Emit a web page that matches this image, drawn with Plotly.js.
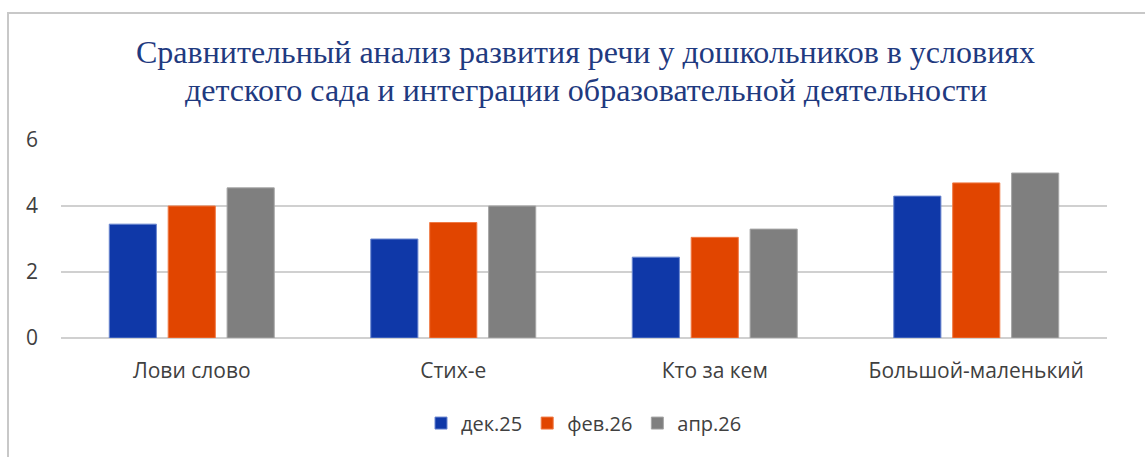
<!DOCTYPE html>
<html>
<head>
<meta charset="utf-8">
<script src="https://cdn.plot.ly/plotly-3.0.1.min.js"></script>
<style>
  html, body { margin: 0; padding: 0; background: #ffffff; overflow: hidden; }
  #chart { width: 1145px; height: 457px; position: absolute; left: 0; top: 0; }
  #frame { position: absolute; left: 7px; top: 12px; width: 1200px; height: 500px;
           border-left: 2px solid #c8c8c8; border-top: 2px solid #c8c8c8; pointer-events: none; }
</style>
</head>
<body>
<div id="chart"></div>
<div id="frame"></div>
<script>
const categories = ["Лови слово", "Стих-е", "Кто за кем", "Большой-маленький"];
const seriesNames = ["дек.25", "фев.26", "апр.26"];
const dec25 = [3.45, 3.0, 2.45, 4.3];
const feb26 = [4.0, 3.5, 3.05, 4.7];
const apr26 = [4.55, 4.0, 3.3, 5.0];
const yTicks = [0, 2, 4, 6];
const titleLine1 = "Сравнительный анализ развития речи у дошкольников в условиях";
const titleLine2 = "детского сада и интеграции образовательной деятельности";

const colors = ["#0f38a8", "#e14500", "#7f7f7f"];
const edge = ["#6a86cf", "#f07a45", "#a6a6a6"];
const values = [dec25, feb26, apr26];

const traces = values.map((v, i) => ({
  type: "bar",
  name: seriesNames[i],
  x: categories,
  y: v,
  marker: { color: colors[i], line: { color: edge[i], width: 1 } },
  hoverinfo: "x+y+name"
}));

const plotTop = 139.5, plotBottom = 338.5, H = 457;
const pyToPaper = (py) => (plotBottom - py) / (plotBottom - plotTop);
const titleFont = { family: "Liberation Serif, Times New Roman, serif", size: 32, color: "#1f3a80" };

const layout = {
  width: 1145,
  height: H,
  paper_bgcolor: "#ffffff",
  plot_bgcolor: "#ffffff",
  margin: { l: 61, r: 38, t: plotTop, b: H - plotBottom },
  barmode: "group",
  bargap: 0.324,
  bargroupgap: 0.2,
  title: {
    text: titleLine1,
    font: titleFont,
    x: 585.5 / 1145, xanchor: "center",
    y: 1 - 52 / H, yanchor: "middle", yref: "container"
  },
  annotations: [{
    text: titleLine2,
    font: titleFont,
    xref: "paper", yref: "paper",
    x: (585.5 - 61) / (1145 - 61 - 38), xanchor: "center",
    y: pyToPaper(89), yanchor: "middle",
    showarrow: false
  }],
  xaxis: {
    type: "category",
    showgrid: false,
    showline: false,
    zeroline: false,
    ticks: "",
    tickfont: { family: "Open Sans, Liberation Sans, sans-serif", size: 21, color: "#404040" },
    ticklabelstandoff: 18
  },
  yaxis: {
    range: [0, 6],
    tickvals: yTicks,
    ticktext: yTicks.map(String),
    showgrid: true,
    gridcolor: "#d0d0d0",
    gridwidth: 2,
    zeroline: true,
    zerolinecolor: "#d0d0d0",
    zerolinewidth: 2,
    showline: false,
    ticks: "",
    tickfont: { family: "Open Sans, Liberation Sans, sans-serif", size: 21, color: "#404040" },
    ticklabelstandoff: 22
  },
  legend: {
    orientation: "h",
    x: 0.5, xanchor: "center",
    y: pyToPaper(424), yanchor: "middle",
    font: { family: "Open Sans, Liberation Sans, sans-serif", size: 20, color: "#404040" },
    itemwidth: 30,
    traceorder: "normal"
  },
  showlegend: true
};

Plotly.newPlot("chart", traces, layout, { displayModeBar: false, staticPlot: true });
</script>
</body>
</html>
